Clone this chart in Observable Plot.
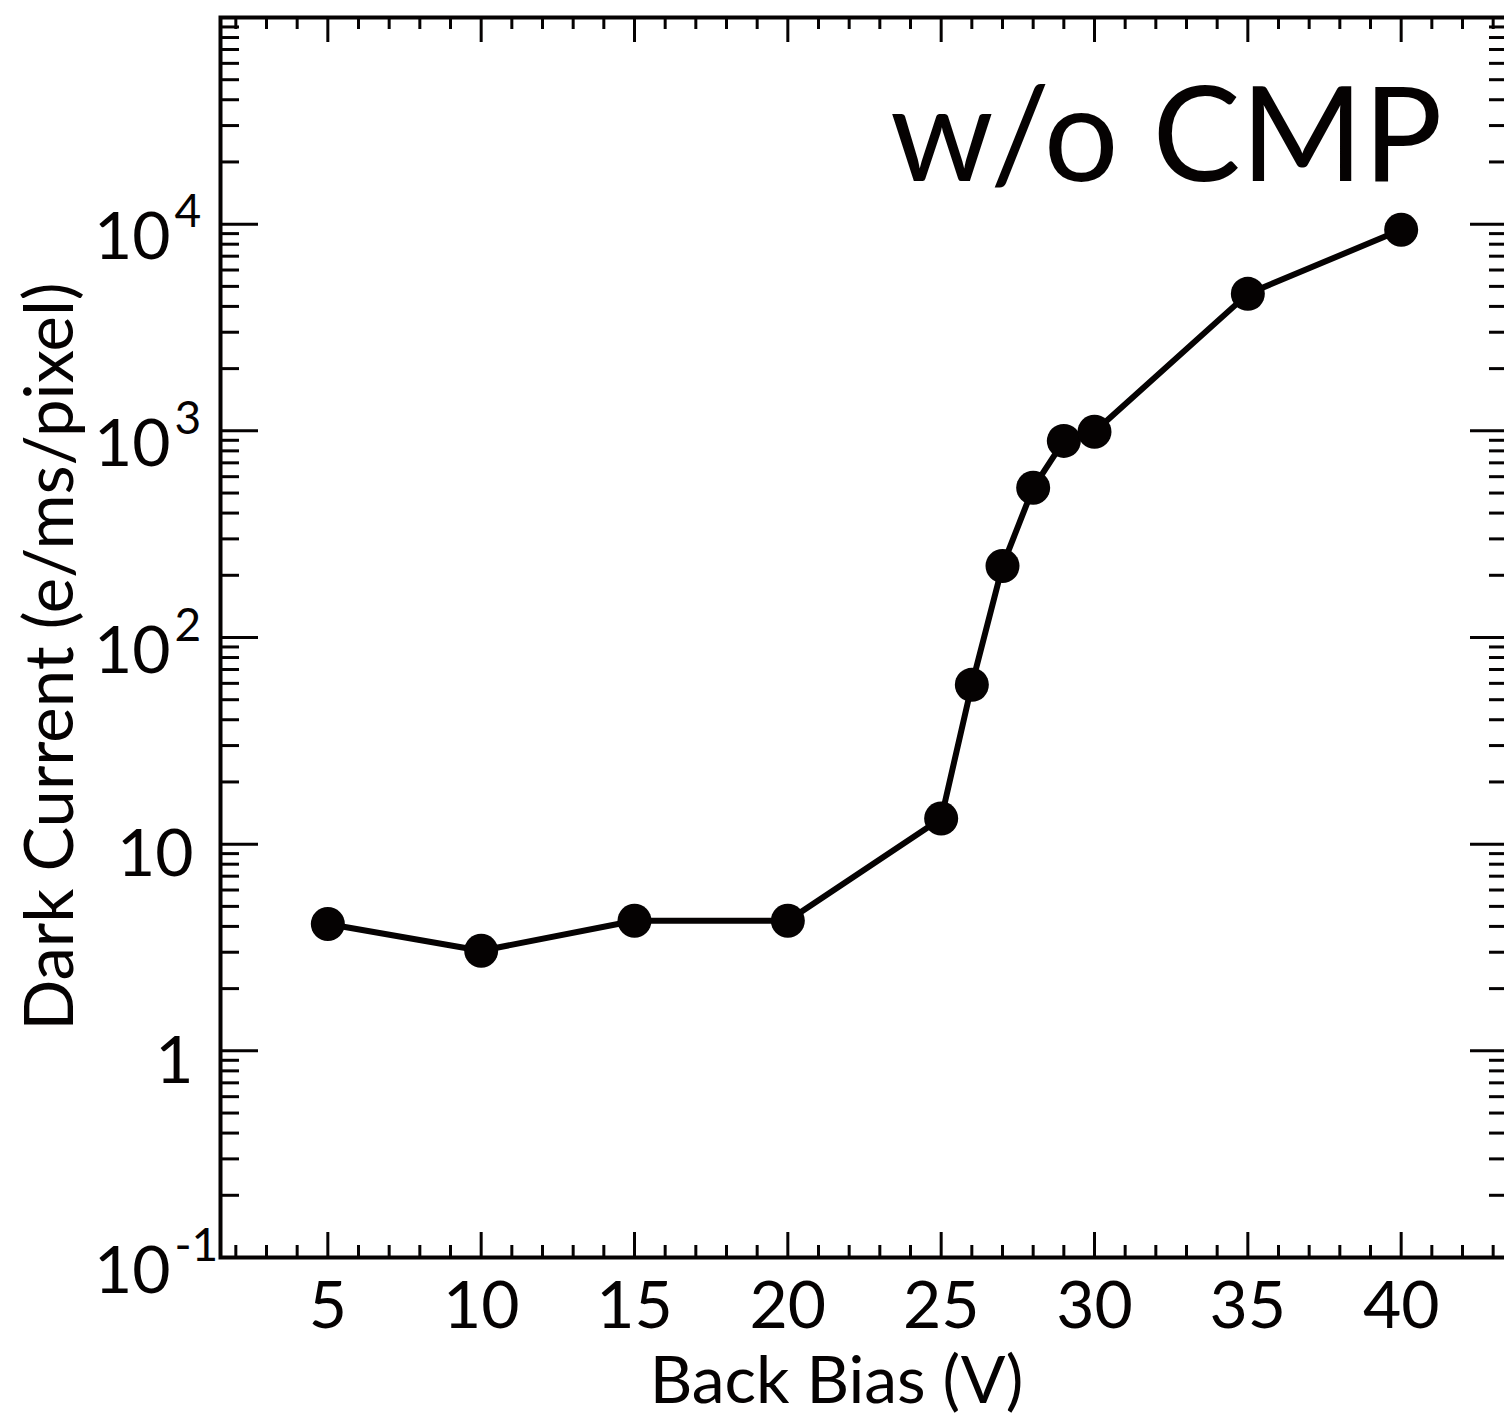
<!DOCTYPE html>
<html><head><meta charset="utf-8">
<script src="https://cdn.jsdelivr.net/npm/d3@7"></script>
<script src="https://cdn.jsdelivr.net/npm/@observablehq/plot@0.6"></script>
<style>html,body{margin:0;padding:0;background:#fff;overflow:hidden;width:1504px;height:1416px}</style>
</head><body><div id="chart"></div>
<script>
// ---- data ----
const bias = [5, 10, 15, 20, 25, 26, 27, 28, 29, 30, 35, 40];
const darkCurrent = [4.11, 3.05, 4.26, 4.26, 13.3, 59, 222, 530, 894, 989, 4600, 9400];

// ---- ticks & labels ----
const xMajorTicks = [5, 10, 15, 20, 25, 30, 35, 40];
const xMinorTicks = [2, 3, 4, 6, 7, 8, 9, 11, 12, 13, 14, 16, 17, 18, 19, 21, 22, 23, 24, 26, 27, 28, 29, 31, 32, 33, 34, 36, 37, 38, 39, 41, 42, 43];
const yMajorTicks = [0.1, 1, 10, 100, 1000, 10000];
const yTickBase = ["10", "1", "10", "10", "10", "10"];
const yTickExp = ["-1", "", "", "2", "3", "4"];
const yMinorTicks = [0.1, 1, 10, 100, 1000, 10000].flatMap(d => [2, 3, 4, 5, 6, 7, 8, 9].map(m => m * d));
const title = "w/o CMP";
const xLabel = "Back Bias (V)";
const yLabel = "Dark Current (e/ms/pixel)";

// ---- layout ----
const W = 1512, H = 1416, mL = 220, mR = 4, mT = 17, mB = 159;
const fw = W - mL - mR, fh = H - mT - mB;
const font = "Lato, 'Open Sans', 'DejaVu Sans', sans-serif";
const ink = "#050202";

const data = bias.map((x, i) => ({x, y: darkCurrent[i]}));
const expTicks = yMajorTicks.map((v, i) => ({v, base: yTickBase[i], exp: yTickExp[i]}));
const withExp = expTicks.filter(d => d.exp !== "");
const noExp = expTicks.filter(d => d.exp === "");

const chart = Plot.plot({
  width: W, height: H,
  marginLeft: mL, marginRight: mR, marginTop: mT, marginBottom: mB,
  style: {fontFamily: font, background: "white", color: ink, overflow: "visible", maxWidth: "none", width: W + "px", height: H + "px"},
  x: {type: "linear", domain: [1.5, 43.5], axis: null},
  y: {type: "log", domain: [0.1, 1e5], axis: null},
  marks: [
    // y ticks left & right
    Plot.tickY(yMajorTicks, {y: d => d, insetRight: fw - 38, stroke: ink, strokeWidth: 3}),
    Plot.tickY(yMinorTicks, {y: d => d, insetRight: fw - 19, stroke: ink, strokeWidth: 3}),
    Plot.tickY(yMajorTicks, {y: d => d, insetLeft: fw - 38, stroke: ink, strokeWidth: 3}),
    Plot.tickY(yMinorTicks, {y: d => d, insetLeft: fw - 19, stroke: ink, strokeWidth: 3}),
    // x ticks bottom & top
    Plot.tickX(xMajorTicks, {x: d => d, insetTop: fh - 25, stroke: ink, strokeWidth: 3}),
    Plot.tickX(xMinorTicks, {x: d => d, insetTop: fh - 12, stroke: ink, strokeWidth: 3}),
    Plot.tickX(xMajorTicks, {x: d => d, insetBottom: fh - 25, stroke: ink, strokeWidth: 3}),
    Plot.tickX(xMinorTicks, {x: d => d, insetBottom: fh - 12, stroke: ink, strokeWidth: 3}),
    Plot.frame({stroke: ink, strokeWidth: 4}),
    // y tick labels
    Plot.text(withExp, {y: "v", text: "base", frameAnchor: "left", textAnchor: "end", lineAnchor: "bottom", dx: -50, dy: 35, fontSize: 66, fill: ink}),
    Plot.text(withExp, {y: "v", text: "exp", frameAnchor: "left", textAnchor: "start", lineAnchor: "bottom", dx: -46, dy: 3, fontSize: 46, fill: ink}),
    Plot.text(noExp, {y: "v", text: "base", frameAnchor: "left", textAnchor: "end", lineAnchor: "bottom", dx: -27, dy: 32, fontSize: 66, fill: ink}),
    // x tick labels
    Plot.text(xMajorTicks, {x: d => d, text: d => String(d), frameAnchor: "bottom", lineAnchor: "bottom", dy: 70, fontSize: 66, fill: ink}),
    // axis titles
    Plot.text([xLabel], {text: d => d, frameAnchor: "bottom", textAnchor: "middle", lineAnchor: "bottom", dx: -28, dy: 145, fontSize: 66, fill: ink}),
    Plot.text([yLabel], {text: d => d, frameAnchor: "left", textAnchor: "middle", rotate: -90, lineAnchor: "bottom", dx: -148, dy: 19, fontSize: 67, fill: ink}),
    // series
    Plot.line(data, {x: "x", y: "y", stroke: ink, strokeWidth: 6}),
    Plot.dot(data, {x: "x", y: "y", r: 17, fill: ink, stroke: "none"}),
    // title
    Plot.text([title], {text: d => d, frameAnchor: "top-right", textAnchor: "end", lineAnchor: "bottom", dx: -66, dy: 163, fontSize: 132, fill: ink})
  ]
});
document.getElementById("chart").appendChild(chart);
</script>
</body></html>
